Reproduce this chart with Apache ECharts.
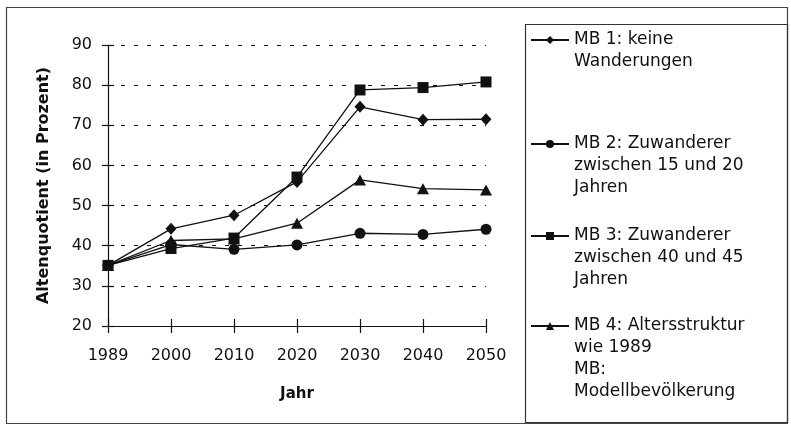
<!DOCTYPE html>
<html><head><meta charset="utf-8">
<script src="https://cdn.jsdelivr.net/npm/echarts@6/dist/echarts.min.js"></script>
<style>html,body{margin:0;padding:0;background:#fff}#c{width:791px;height:432px}</style>
</head><body><div id="c"></div>
<script>
const years = ['1989', '2000', '2010', '2020', '2030', '2040', '2050'];
const mb1 = [35.1, 44.2, 47.6, 55.9, 74.6, 71.4, 71.5];
const mb2 = [35.1, 40.3, 39.1, 40.2, 43.1, 42.8, 44.1];
const mb3 = [35.1, 39.3, 41.9, 57.1, 78.8, 79.4, 80.8];
const mb4 = [35.1, 41.3, 41.7, 45.6, 56.4, 54.2, 53.9];
const seriesNames = ['MB 1: keine Wanderungen', 'MB 2: Zuwanderer zwischen 15 und 20 Jahren', 'MB 3: Zuwanderer zwischen 40 und 45 Jahren', 'MB 4: Altersstruktur wie 1989'];
const legendLines = [
  ['MB 1: keine', 'Wanderungen'],
  ['MB 2: Zuwanderer', 'zwischen 15 und 20', 'Jahren'],
  ['MB 3: Zuwanderer', 'zwischen 40 und 45', 'Jahren'],
  ['MB 4: Altersstruktur', 'wie 1989', 'MB:', 'Modellbevölkerung']
];
const yMin = 20, yMax = 90, yStep = 10;
const xTitle = 'Jahr';
const yTitle = 'Altenquotient (in Prozent)';

const FONT = 'DejaVu Sans';
const INK = '#111';
const LH = 22;
const legendCenters = [40, 144, 236, 326];
const symbols = ['diamond', 'circle', 'rect', 'triangle'];
const symbolSizes = [[11, 12], 11, 11, [12, 11]];
const dataSets = [mb1, mb2, mb3, mb4];

const chart = echarts.init(document.getElementById('c'), null, {renderer: 'canvas'});

const baseX = {
  type: 'category', data: years, boundaryGap: false, gridIndex: 0, position: 'bottom'
};
const baseY = {
  type: 'value', min: yMin, max: yMax, interval: yStep, gridIndex: 0, position: 'left'
};

const option = {
  animation: false,
  backgroundColor: '#fff',
  textStyle: {fontFamily: FONT},
  grid: {left: 108, top: 45, width: 378, height: 281},
  xAxis: [
    Object.assign({}, baseX, {
      axisLine: {lineStyle: {color: INK, width: 1.2}},
      axisTick: {show: true, inside: false, length: 7, alignWithLabel: true, lineStyle: {color: INK, width: 1.2}},
      axisLabel: {fontSize: 16, color: INK, margin: 22, fontFamily: FONT},
      splitLine: {show: false},
      name: xTitle, nameLocation: 'middle', nameGap: 61,
      nameTextStyle: {fontSize: 15, fontWeight: 'bold', color: INK, fontFamily: FONT}
    }),
    Object.assign({}, baseX, {
      axisLine: {show: false},
      axisTick: {show: true, inside: true, length: 7, alignWithLabel: true, lineStyle: {color: INK, width: 1.2}},
      axisLabel: {show: false},
      splitLine: {show: false}
    })
  ],
  yAxis: [
    Object.assign({}, baseY, {
      axisLine: {show: true, lineStyle: {color: INK, width: 1.2}},
      axisTick: {show: true, inside: false, length: 6, lineStyle: {color: INK, width: 1.2}},
      axisLabel: {fontSize: 16, color: INK, margin: 16, fontFamily: FONT},
      splitLine: {show: true, lineStyle: {color: INK, width: 1.2, type: [4, 9]}},
      name: yTitle, nameLocation: 'middle', nameRotate: 90, nameGap: 56,
      nameTextStyle: {fontSize: 16, fontWeight: 'bold', color: INK, fontFamily: FONT}
    }),
    Object.assign({}, baseY, {
      axisLine: {show: false},
      axisTick: {show: true, inside: true, length: 6, lineStyle: {color: INK, width: 1.2}},
      axisLabel: {show: false},
      splitLine: {show: false}
    })
  ],
  legend: legendLines.map((lines, i) => ({
    data: [seriesNames[i]],
    left: 530,
    top: legendCenters[i] - (lines.length - 1) * LH - LH / 2,
    orient: 'vertical',
    padding: 0,
    itemWidth: 38,
    itemHeight: 10,
    selectedMode: false,
    formatter: () => '\n'.repeat(lines.length - 1) + lines.join('\n'),
    textStyle: {fontSize: 17, lineHeight: LH, color: INK, fontFamily: FONT}
  })),
  series: dataSets.map((d, i) => ({
    name: seriesNames[i],
    type: 'line',
    xAxisIndex: 0, yAxisIndex: 0,
    data: d,
    symbol: symbols[i],
    symbolSize: symbolSizes[i],
    showAllSymbol: true,
    lineStyle: {color: INK, width: 1.3},
    itemStyle: {color: INK, borderWidth: 0},
    emphasis: {disabled: true}
  })),
  graphic: [
    {type: 'rect', shape: {x: 6.5, y: 7.5, width: 781, height: 416}, style: {fill: null, stroke: '#444', lineWidth: 1.2}, silent: true, z: -1},
    {type: 'rect', shape: {x: 525.5, y: 24.5, width: 262, height: 398}, style: {fill: null, stroke: '#333', lineWidth: 1.2}, silent: true, z: -1}
  ]
};
chart.setOption(option);
</script>
</body></html>
